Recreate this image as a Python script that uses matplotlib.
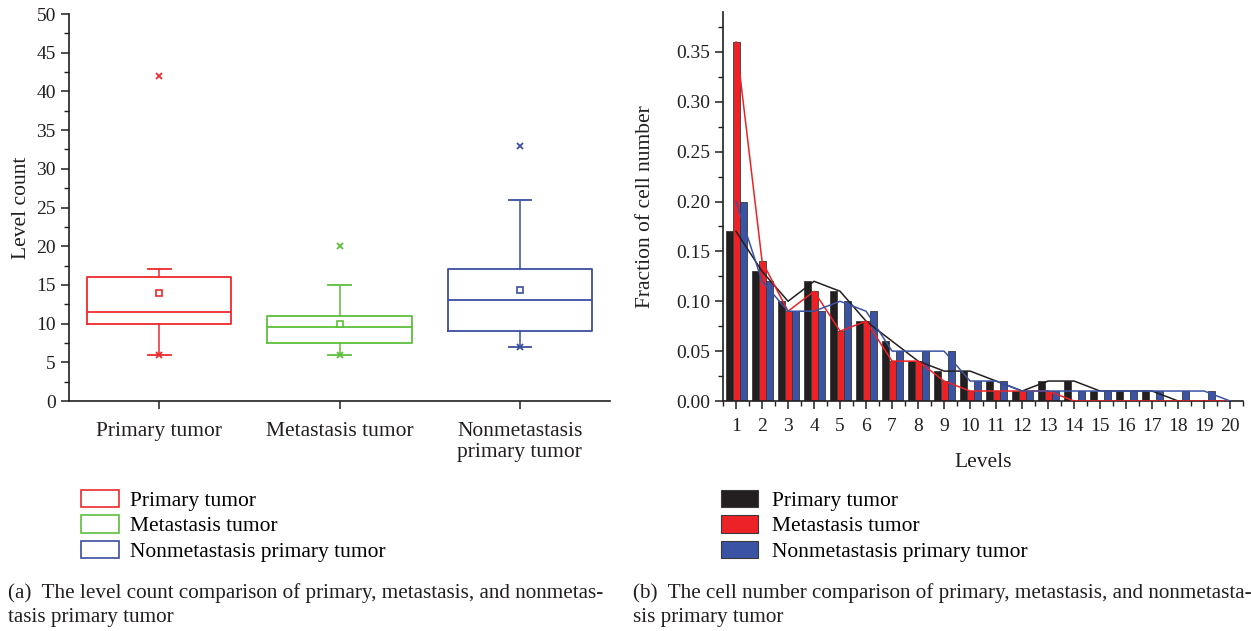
import numpy as np
import matplotlib
matplotlib.use("Agg")
import matplotlib.pyplot as plt
from matplotlib.patches import Patch
from matplotlib.ticker import MultipleLocator, FormatStrFormatter

plt.rcParams['font.family'] = ['Liberation Serif', 'DejaVu Serif']
TXT = '#231f20'

# ---- left panel: box plot summaries
groups = ["Primary tumor", "Metastasis tumor", "Nonmetastasis\nprimary tumor"]
legend_names = ["Primary tumor", "Metastasis tumor", "Nonmetastasis primary tumor"]
q1 = [10, 7.5, 9]
med = [11.5, 9.5, 13]
q3 = [16, 11, 17]
whis_lo = [6, 6, 7]
whis_hi = [17, 15, 26]
means = [14, 10, 14.3]
mins = [6, 6, 7]
maxs = [42, 20, 33]
box_colors = ['#ee2a2e', '#5cbf3c', '#3a4fa0']

# ---- right panel: fraction of cell number per level
levels = list(range(1, 21))
frac_primary = [0.17, 0.13, 0.10, 0.12, 0.11, 0.08, 0.06, 0.04, 0.03, 0.03,
                0.02, 0.01, 0.02, 0.02, 0.01, 0.01, 0.01, 0.00, 0.00, 0.00]
frac_meta = [0.36, 0.14, 0.09, 0.11, 0.07, 0.08, 0.04, 0.04, 0.02, 0.01,
             0.01, 0.01, 0.01, 0.00, 0.00, 0.00, 0.00, 0.00, 0.00, 0.00]
frac_nonmeta = [0.20, 0.12, 0.09, 0.09, 0.10, 0.09, 0.05, 0.05, 0.05, 0.02,
                0.02, 0.01, 0.01, 0.01, 0.01, 0.01, 0.01, 0.01, 0.01, 0.00]
bar_colors = ['#231f20', '#ed2226', '#3a53a4']

fs = 15.5      # words
fs_num = 14    # tick numbers
fs_cap = 15.2  # captions

fig = plt.figure(figsize=(12.51, 6.31), dpi=100)
ax1 = fig.add_axes([0.0552, 0.3645, 0.4325, 0.6133])
ax2 = fig.add_axes([0.578, 0.3645, 0.4157, 0.6165])

# box plot
stats = []
for i in range(3):
    stats.append(dict(med=med[i], q1=q1[i], q3=q3[i], whislo=whis_lo[i],
                      whishi=whis_hi[i], mean=means[i],
                      fliers=[mins[i], maxs[i]], label=groups[i]))
bp = ax1.bxp(stats, positions=[1, 2, 3], widths=0.8, showmeans=True,
             capwidths=0.125, patch_artist=False)
for i, c in enumerate(box_colors):
    bp['boxes'][i].set(color=c, linewidth=1.3)
    bp['medians'][i].set(color=c, linewidth=1.3)
    for k in (2 * i, 2 * i + 1):
        bp['whiskers'][k].set(color=c, linewidth=1.1)
        bp['caps'][k].set(color=c, linewidth=1.3)
    bp['fliers'][i].set(marker='x', markeredgecolor=c, markersize=5,
                        markeredgewidth=1.3)
    bp['means'][i].set(marker='s', markerfacecolor='white', markeredgecolor=c,
                       markersize=5, markeredgewidth=1.2)

ax1.set_xlim(0.5, 3.5)
ax1.set_ylim(0, 50)
ax1.yaxis.set_major_locator(MultipleLocator(5))
ax1.yaxis.set_minor_locator(MultipleLocator(2.5))
ax1.set_ylabel("Level count", fontsize=fs, color=TXT, labelpad=4)
ax1.set_xticks([1, 2, 3])
ax1.set_xticklabels(groups, fontsize=fs, color=TXT, linespacing=1.15)

# grouped bars with lines through the values
x = np.array(levels)
w = 0.27
series = [frac_primary, frac_meta, frac_nonmeta]
for j, vals in enumerate(series):
    ax2.bar(x + (j - 1) * w, vals, width=w, color=bar_colors[j],
            edgecolor='#3a3a3a', linewidth=0.6, label=legend_names[j], zorder=2)
for j, vals in enumerate(series):
    ax2.plot(x, vals, color=bar_colors[j], linewidth=1.1, zorder=3)

ax2.set_xlim(0.5, 20.5)
ax2.set_ylim(0, 0.39)
ax2.set_xticks(levels)
ax2.xaxis.set_minor_locator(MultipleLocator(0.5))
ax2.yaxis.set_major_locator(MultipleLocator(0.05))
ax2.yaxis.set_minor_locator(MultipleLocator(0.025))
ax2.yaxis.set_major_formatter(FormatStrFormatter('%.2f'))
ax2.set_xlabel("Levels", fontsize=fs, color=TXT, labelpad=13)
ax2.set_ylabel("Fraction of cell number", fontsize=fs, color=TXT, labelpad=15)

for ax in (ax1, ax2):
    for s in ('top', 'right'):
        ax.spines[s].set_visible(False)
    for s in ('left', 'bottom'):
        ax.spines[s].set_linewidth(1.2)
        ax.spines[s].set_color(TXT)
    ax.tick_params(which='major', direction='out', length=6, width=1.1,
                   colors=TXT, labelsize=fs_num)
    ax.tick_params(which='minor', direction='out', length=3.5, width=1.0,
                   colors=TXT)
ax1.tick_params(axis='x', which='minor', length=0)
ax1.tick_params(axis='x', pad=9, labelsize=fs)
ax2.tick_params(axis='x', pad=6)

# legends below each panel
h1 = [Patch(facecolor='white', edgecolor=c, linewidth=1.2) for c in box_colors]
fig.legend(h1, legend_names, loc='upper left', bbox_to_anchor=(0.065, 0.224),
           frameon=False, fontsize=fs, handlelength=1.75, handleheight=0.85,
           handletextpad=0.5, labelspacing=0.22, borderpad=0, borderaxespad=0)
h2 = [Patch(facecolor=c, edgecolor='#3a3a3a', linewidth=0.8) for c in bar_colors]
fig.legend(h2, legend_names, loc='upper left', bbox_to_anchor=(0.576, 0.224),
           frameon=False, fontsize=fs, handlelength=1.75, handleheight=0.85,
           handletextpad=0.65, labelspacing=0.22, borderpad=0, borderaxespad=0)

# captions
fig.text(0.006, 0.041,
         "(a)  The level count comparison of primary, metastasis, and nonmetas-\ntasis primary tumor",
         fontsize=fs_cap, color=TXT, ha='left', va='center', linespacing=1.32)
fig.text(0.506, 0.041,
         "(b)  The cell number comparison of primary, metastasis, and nonmetasta-\nsis primary tumor",
         fontsize=fs_cap, color=TXT, ha='left', va='center', linespacing=1.32)

fig.savefig("out.png", dpi=100)
